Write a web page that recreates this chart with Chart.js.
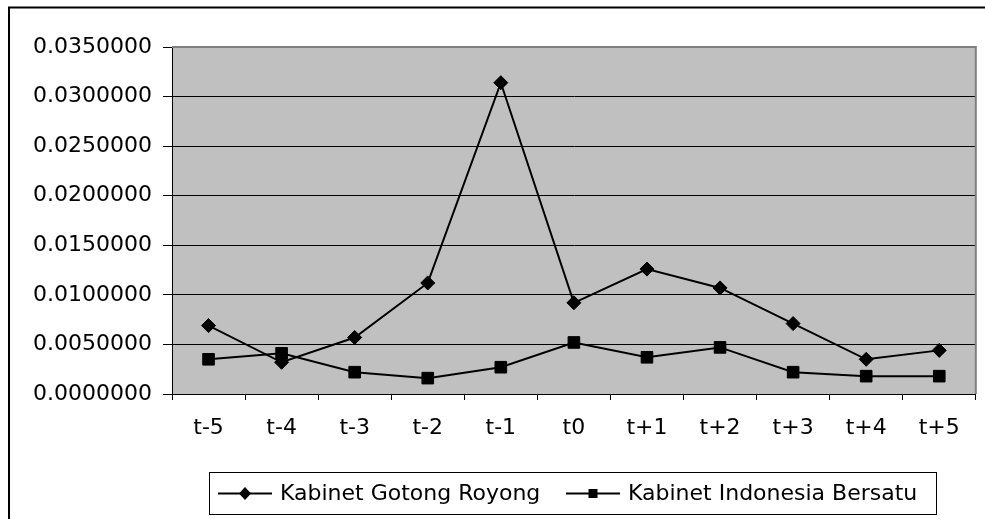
<!DOCTYPE html>
<html><head><meta charset="utf-8">
<script src="https://cdn.jsdelivr.net/npm/chart.js@4/dist/chart.umd.min.js"></script>
<style>html,body{margin:0;padding:0;background:#fff;}#wrap{position:relative;width:985px;height:519px;}</style>
</head><body><div id="wrap"><canvas id="c" width="985" height="519"></canvas></div>
<script>
const categories = ['t-5','t-4','t-3','t-2','t-1','t0','t+1','t+2','t+3','t+4','t+5'];
const gotongRoyong = [0.0069,0.0032,0.0057,0.0112,0.0314,0.0092,0.0126,0.0107,0.0071,0.0035,0.0044];
const indonesiaBersatu = [0.0035,0.0041,0.0022,0.0016,0.0027,0.0052,0.0037,0.0047,0.0022,0.0018,0.0018];
const seriesNames = ['Kabinet Gotong Royong','Kabinet Indonesia Bersatu'];
const yMin = 0, yMax = 0.035, yStep = 0.005;

const FONT = {family:'"DejaVu Sans", sans-serif', size:22};

const frame = {
  id:'frame',
  beforeDraw(chart){
    const {ctx, chartArea:a} = chart;
    ctx.save();
    ctx.fillStyle='#fff'; ctx.fillRect(0,0,chart.width,chart.height);
    ctx.fillStyle='#C0C0C0'; ctx.fillRect(a.left,a.top,a.right-a.left,a.bottom-a.top);
    ctx.restore();
  },
  afterDraw(chart){
    const {ctx, chartArea:a} = chart;
    ctx.save();
    ctx.strokeStyle='#808080'; ctx.lineWidth=2;
    ctx.beginPath(); ctx.moveTo(a.left,a.top); ctx.lineTo(a.right,a.top); ctx.lineTo(a.right,a.bottom); ctx.stroke();
    ctx.strokeStyle='#000'; ctx.lineWidth=2;
    ctx.beginPath(); ctx.moveTo(9,1000); ctx.lineTo(9,7.5); ctx.lineTo(1000,7.5); ctx.stroke();
    ctx.lineWidth=1; ctx.strokeStyle='#000';
    ctx.strokeRect(209.5,472.5,727,42);
    const ly = 493.5;
    const starts=[218,566];
    chart.data.datasets.forEach((ds,i)=>{
      const x0=starts[i];
      ctx.strokeStyle='#000'; ctx.lineWidth=2;
      ctx.beginPath(); ctx.moveTo(x0,ly); ctx.lineTo(x0+54,ly); ctx.stroke();
      ctx.fillStyle='#000';
      const cx=x0+27;
      ctx.beginPath();
      if(ds.pointStyle==='rectRot'){
        ctx.moveTo(cx-6,ly); ctx.lineTo(cx,ly-6.5); ctx.lineTo(cx+6,ly); ctx.lineTo(cx,ly+6.5); ctx.closePath();
      } else {
        ctx.rect(cx-4.5,ly-4.5,9,9);
      }
      ctx.fill();
      ctx.font = FONT.size+'px '+FONT.family;
      ctx.textBaseline='middle'; ctx.textAlign='left';
      ctx.fillText(ds.label, x0+62, ly+1);
    });
    ctx.restore();
  }
};

new Chart(document.getElementById('c'),{
  type:'line',
  data:{
    labels:categories,
    datasets:[
      {label:seriesNames[0],data:gotongRoyong,borderColor:'#000',backgroundColor:'#000',borderWidth:2,
       pointStyle:'rectRot',pointRadius:7,pointBorderWidth:1,pointBackgroundColor:'#000',pointBorderColor:'#000',tension:0},
      {label:seriesNames[1],data:indonesiaBersatu,borderColor:'#000',backgroundColor:'#000',borderWidth:2,
       pointStyle:'rect',pointRadius:8.2,pointBorderWidth:1,pointBackgroundColor:'#000',pointBorderColor:'#000',tension:0}
    ]
  },
  options:{
    responsive:false, animation:false, devicePixelRatio:1,
    layout:{padding:{top:47,right:8,left:0,bottom:80}},
    plugins:{legend:{display:false},tooltip:{enabled:false}},
    scales:{
      x:{type:'category',offset:true,
        grid:{display:true,drawOnChartArea:false,drawTicks:true,tickLength:6,color:'#000',offset:true},
        border:{display:true,color:'#000',width:1},
        ticks:{font:FONT,color:'#000',padding:15,maxRotation:0,autoSkip:false},
        afterFit(s){s.height=45;}
      },
      y:{min:yMin,max:yMax,
        ticks:{stepSize:yStep,font:FONT,color:'#000',padding:11,callback:v=>Number(v).toFixed(7)},
        grid:{color:'#000',lineWidth:1,tickLength:9,drawTicks:true},
        border:{display:true,color:'#000',width:1},
        afterFit(s){s.width=172;}
      }
    }
  },
  plugins:[frame]
});
</script></body></html>
